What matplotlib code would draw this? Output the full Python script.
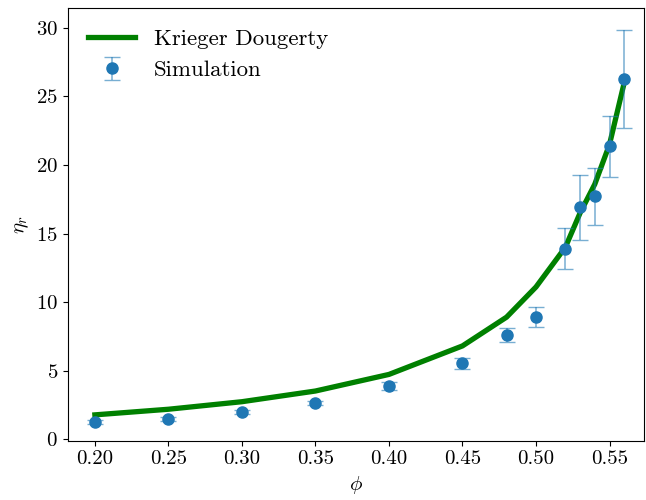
import matplotlib
matplotlib.use("Agg")
from matplotlib import pyplot as plt

# volume fractions and reduced viscosities
phi = [0.20, 0.25, 0.30, 0.35, 0.40, 0.45, 0.48, 0.50, 0.52, 0.53, 0.54, 0.55, 0.56]
kd_eta = [1.77, 2.18, 2.73, 3.51, 4.72, 6.80, 8.90, 11.1, 14.0, 16.5, 18.6, 21.5, 26.0]
sim_eta = [1.24, 1.45, 1.96, 2.66, 3.87, 5.52, 7.58, 8.91, 13.88, 16.9, 17.7, 21.37, 26.28]
sim_err = [0.15, 0.15, 0.15, 0.15, 0.3, 0.4, 0.53, 0.7, 1.5, 2.4, 2.05, 2.22, 3.55]

plt.rcParams["font.family"] = "serif"
plt.rcParams["font.serif"] = ["cmr10"]
plt.rcParams["mathtext.fontset"] = "cm"
plt.rcParams["axes.formatter.use_mathtext"] = True
plt.rcParams["font.size"] = 15

fig = plt.figure(figsize=(6.46, 5.0), dpi=100)
ax = fig.add_axes([0.105, 0.119, 0.892, 0.865])

ax.plot(phi, kd_eta, color="g", lw=3.8, label="Krieger Dougerty")
ax.errorbar(phi, sim_eta, yerr=sim_err, fmt="o", color="tab:blue", ms=8,
            ecolor=(0.12, 0.47, 0.71, 0.6), elinewidth=1.1, capsize=6,
            label="Simulation")

ax.set_xlim(0.1816, 0.5735)
ax.set_ylim(-0.1, 31.45)
ax.set_xticks([0.20, 0.25, 0.30, 0.35, 0.40, 0.45, 0.50, 0.55])
ax.set_xticklabels(["0.20", "0.25", "0.30", "0.35", "0.40", "0.45", "0.50", "0.55"])
ax.set_yticks([0, 5, 10, 15, 20, 25, 30])
ax.set_xlabel(r"$\phi$")
ax.set_ylabel(r"$\eta_r$")
ax.legend(loc="upper left", frameon=False, handlelength=2.05, fontsize=16.5,
          borderaxespad=0.5)

fig.savefig("out.png", dpi=100)
